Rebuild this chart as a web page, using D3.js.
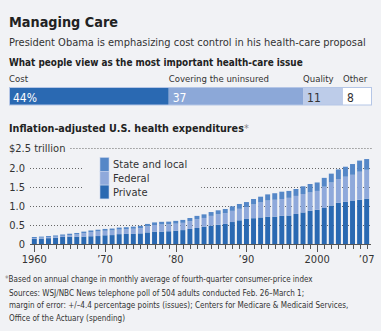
<!DOCTYPE html>
<html>
<head>
<meta charset="utf-8">
<script src="https://cdn.jsdelivr.net/npm/d3@7"></script>
<style>
  body { margin: 0; background: #f1f2f5; }
  svg { display: block; font-family: "DejaVu Sans", sans-serif; font-stretch: condensed; }
  .dark { fill: #222; }
  .txt { fill: #333; }
</style>
</head>
<body>
<div id="chart"></div>
<script>
// poll: most important health-care issue (percent)
var issues = ["Cost", "Covering the uninsured", "Quality", "Other"];
var issueShare = [44, 37, 11, 8];
var issueLabels = ["44%", "37", "11", "8"];

// spending, trillions of 2007 dollars
var years = d3.range(1960, 2008);
var privateSpend = [0.14, 0.15, 0.16, 0.17, 0.19, 0.20, 0.20, 0.20, 0.21, 0.215,
  0.235, 0.24, 0.265, 0.27, 0.27, 0.285, 0.31, 0.33, 0.33, 0.34,
  0.355, 0.37, 0.40, 0.425, 0.46, 0.485, 0.51, 0.53, 0.58, 0.625,
  0.66, 0.68, 0.70, 0.72, 0.72, 0.74, 0.75, 0.79, 0.83, 0.875,
  0.90, 0.945, 1.01, 1.08, 1.11, 1.14, 1.16, 1.19];
var federalSpend = [0.024, 0.023, 0.026, 0.029, 0.031, 0.039, 0.058, 0.09, 0.107, 0.119,
  0.117, 0.12, 0.118, 0.122, 0.135, 0.137, 0.156, 0.172, 0.185, 0.179,
  0.182, 0.189, 0.203, 0.226, 0.226, 0.255, 0.269, 0.28, 0.291, 0.299,
  0.308, 0.358, 0.39, 0.42, 0.44, 0.44, 0.46, 0.47, 0.48, 0.475,
  0.49, 0.555, 0.60, 0.62, 0.65, 0.67, 0.73, 0.75];
var stateLocalSpend = [0.026, 0.027, 0.029, 0.031, 0.034, 0.036, 0.037, 0.04, 0.043, 0.046,
  0.048, 0.05, 0.052, 0.053, 0.055, 0.058, 0.064, 0.068, 0.07, 0.071,
  0.073, 0.076, 0.082, 0.089, 0.094, 0.10, 0.106, 0.11, 0.119, 0.126,
  0.132, 0.142, 0.15, 0.16, 0.17, 0.19, 0.18, 0.18, 0.20, 0.22,
  0.22, 0.23, 0.23, 0.25, 0.26, 0.28, 0.29, 0.28];
var yTicks = [0, 0.5, 1.0, 1.5, 2.0, 2.5];
var xLabels = {1960: "1960", 1970: "\u201970", 1980: "\u201980", 1990: "\u201990", 2000: "2000", 2007: "\u201907"};

var svgWidth = 381;
var svgHeight = 331;

var svg = d3.select("#chart")
  .append("svg")
  .attr("width", svgWidth)
  .attr("height", svgHeight);

svg.append("rect")
  .attr("width", svgWidth)
  .attr("height", svgHeight)
  .attr("fill", "#f1f2f5");

// scale a text's font size so the line runs to a given width
function fit(sel, w) {
  sel.each(function(d, i) {
    var node = d3.select(this);
    var len = this.getComputedTextLength();
    var size = parseFloat(node.attr("font-size"));
    var target = typeof w === "function" ? w(d, i) : w;
    if (len > 0) node.attr("font-size", (size * target / len).toFixed(2));
  });
  return sel;
}

// headings
fit(svg.append("text").attr("class", "dark")
  .attr("x", 9).attr("y", 27)
  .attr("font-size", 17).attr("font-weight", "bold")
  .text("Managing Care"), 109);

fit(svg.append("text").attr("class", "txt")
  .attr("x", 9).attr("y", 46)
  .attr("font-size", 13)
  .text("President Obama is emphasizing cost control in his health-care proposal"), 357);

fit(svg.append("text").attr("class", "dark")
  .attr("x", 9).attr("y", 66)
  .attr("font-size", 12.5).attr("font-weight", "bold")
  .text("What people view as the most important health-care issue"), 294);

// ---- poll bar ----
var barColors = ["#2a69b2", "#8ca8d8", "#bdcce9", "#ffffff"];
var labelColors = ["#ffffff", "#ffffff", "#333333", "#333333"];

var shareScale = d3.scaleLinear()
  .domain([0, d3.sum(issueShare)])
  .range([9, 372]);

var starts = [];
issueShare.reduce(function(acc, v) { starts.push(acc); return acc + v; }, 0);

var pollGroup = svg.append("g");

pollGroup.selectAll("rect")
  .data(issueShare)
  .enter()
  .append("rect")
  .attr("x", (d, i) => shareScale(starts[i]))
  .attr("y", 87.5)
  .attr("width", (d, i) => shareScale(starts[i] + d) - shareScale(starts[i]))
  .attr("height", 17.5)
  .attr("fill", (d, i) => barColors[i]);

pollGroup.append("rect")
  .attr("x", shareScale(0) + 0.5)
  .attr("y", 87.5)
  .attr("width", shareScale(100) - shareScale(0) - 1)
  .attr("height", 17.5)
  .attr("fill", "none")
  .attr("stroke", "#b5c6e6")
  .attr("stroke-width", 1);

// category names, sized so "Covering the uninsured" spans its segment label width
var cats = pollGroup.selectAll(".cat")
  .data(issues)
  .enter()
  .append("text")
  .attr("class", "txt")
  .attr("x", (d, i) => shareScale(starts[i]))
  .attr("y", 82)
  .attr("font-size", 10.5)
  .text(d => d);
var wideCat = cats.filter(d => d === "Covering the uninsured");
fit(wideCat, 96);
cats.attr("font-size", Math.max(9.5, +wideCat.attr("font-size")));

pollGroup.selectAll(".val")
  .data(issueLabels)
  .enter()
  .append("text")
  .attr("x", (d, i) => shareScale(starts[i]) + 4)
  .attr("y", 101.5)
  .attr("font-size", 12)
  .attr("fill", (d, i) => labelColors[i])
  .text(d => d);

// ---- expenditures chart ----
var head = svg.append("text").attr("class", "dark")
  .attr("x", 9).attr("y", 132)
  .attr("font-size", 12.5).attr("font-weight", "bold");
head.append("tspan").text("Inflation-adjusted U.S. health expenditures");
head.append("tspan").attr("fill", "#888").attr("font-weight", "normal").text("*");
fit(head, 240);

var data = years.map(function(y, i) {
  return { year: y, priv: privateSpend[i], fed: federalSpend[i], state: stateLocalSpend[i] };
});

var stack = d3.stack().keys(["priv", "fed", "state"]);
var series = stack(data);

var xScale = d3.scaleBand()
  .domain(years)
  .range([30.8, 370.2])
  .paddingInner(0.3)
  .paddingOuter(0.15);

var yScale = d3.scaleLinear()
  .domain([0, 2.5])
  .range([244.3, 148.3]);

// y labels
var yLabels = svg.append("g").selectAll("text")
  .data(yTicks)
  .enter()
  .append("text")
  .attr("class", "txt")
  .attr("x", d => d === 2.5 ? 9 : 25)
  .attr("y", d => yScale(d) + 4)
  .attr("text-anchor", d => d === 2.5 ? "start" : "end")
  .attr("font-size", 11)
  .text(d => d === 2.5 ? "$2.5 trillion" : (d === 0 ? "0" : d.toFixed(1)));
var topEnd = 9 + yLabels.filter(d => d === 2.5).node().getComputedTextLength();

// dotted gridlines
var gridGroup = svg.append("g");
gridGroup.selectAll("line")
  .data(yTicks.filter(d => d > 0))
  .enter()
  .append("line")
  .attr("x1", d => d === 2.5 ? topEnd + 5 : 30)
  .attr("x2", 372)
  .attr("y1", d => Math.round(yScale(d)) + 0.5)
  .attr("y2", d => Math.round(yScale(d)) + 0.5)
  .attr("stroke", "#666")
  .attr("stroke-width", 1)
  .attr("stroke-dasharray", "1,2");

// legend, sits over the gridlines
var legendKeys = ["State and local", "Federal", "Private"];
var legendColors = ["#5587c7", "#8fa9db", "#2a69b2"];
var legend = svg.append("g");
var legendBg = legend.append("rect")
  .attr("x", 84).attr("y", 155)
  .attr("height", 46)
  .attr("fill", "#f1f2f5");
legend.selectAll(".sw")
  .data(legendKeys)
  .enter()
  .append("rect")
  .attr("x", 100)
  .attr("y", (d, i) => 157.5 + i * 13.8)
  .attr("width", 9)
  .attr("height", 13.8)
  .attr("fill", (d, i) => legendColors[i])
  .attr("stroke", "#c3d1ec")
  .attr("stroke-width", 0.6);
var legendText = legend.selectAll("text")
  .data(legendKeys)
  .enter()
  .append("text")
  .attr("class", "txt")
  .attr("x", 113)
  .attr("y", (d, i) => 168 + i * 14)
  .attr("font-size", 11)
  .text(d => d);
var legendEnd = 113 + d3.max(legendText.nodes(), n => n.getComputedTextLength());
legendBg.attr("width", Math.max(104, legendEnd + 14 - 84));

// stacked bars
var stackColors = { priv: "#2a69b2", fed: "#8fa9db", state: "#5587c7" };
svg.append("g").selectAll("g")
  .data(series)
  .enter()
  .append("g")
  .attr("fill", d => stackColors[d.key])
  .selectAll("rect")
  .data(d => d)
  .enter()
  .append("rect")
  .attr("x", d => xScale(d.data.year))
  .attr("y", d => yScale(d[1]))
  .attr("width", xScale.bandwidth())
  .attr("height", d => yScale(d[0]) - yScale(d[1]));

// x axis
var xAxisGroup = svg.append("g");
xAxisGroup.append("line")
  .attr("x1", 30).attr("x2", 371)
  .attr("y1", 244.5).attr("y2", 244.5)
  .attr("stroke", "#555");
xAxisGroup.selectAll(".tick")
  .data(years)
  .enter()
  .append("line")
  .attr("x1", d => Math.round(xScale(d) + xScale.bandwidth() / 2) + 0.5)
  .attr("x2", d => Math.round(xScale(d) + xScale.bandwidth() / 2) + 0.5)
  .attr("y1", 244.5)
  .attr("y2", d => d % 10 === 0 ? 252 : 249)
  .attr("stroke", "#555");
xAxisGroup.selectAll("text")
  .data(Object.keys(xLabels).map(Number))
  .enter()
  .append("text")
  .attr("class", "txt")
  .attr("x", d => xScale(d) + xScale.bandwidth() / 2)
  .attr("y", 263)
  .attr("text-anchor", "middle")
  .attr("font-size", 11)
  .text(d => xLabels[d]);

// notes
var note = svg.append("text").attr("class", "txt")
  .attr("x", 5).attr("y", 282)
  .attr("font-size", 9.5);
note.append("tspan").attr("fill", "#888").text("*");
note.append("tspan").text("Based on annual change in monthly average of fourth-quarter consumer-price index");
fit(note, 308);

var sources = [
  "Sources: WSJ/NBC News telephone poll of 504 adults conducted Feb. 26\u2013March 1;",
  "margin of error: +/\u20134.4 percentage points (issues); Centers for Medicare & Medicaid Services,",
  "Office of the Actuary (spending)"
];
var sourceLines = svg.append("g").selectAll("text")
  .data(sources)
  .enter()
  .append("text")
  .attr("class", "txt")
  .attr("x", 9)
  .attr("y", (d, i) => 295.5 + i * 12.7)
  .attr("font-size", 9.5)
  .text(d => d);
var longLine = sourceLines.filter((d, i) => i === 1);
fit(longLine, 340);
sourceLines.attr("font-size", longLine.attr("font-size"));
</script>
</body>
</html>
